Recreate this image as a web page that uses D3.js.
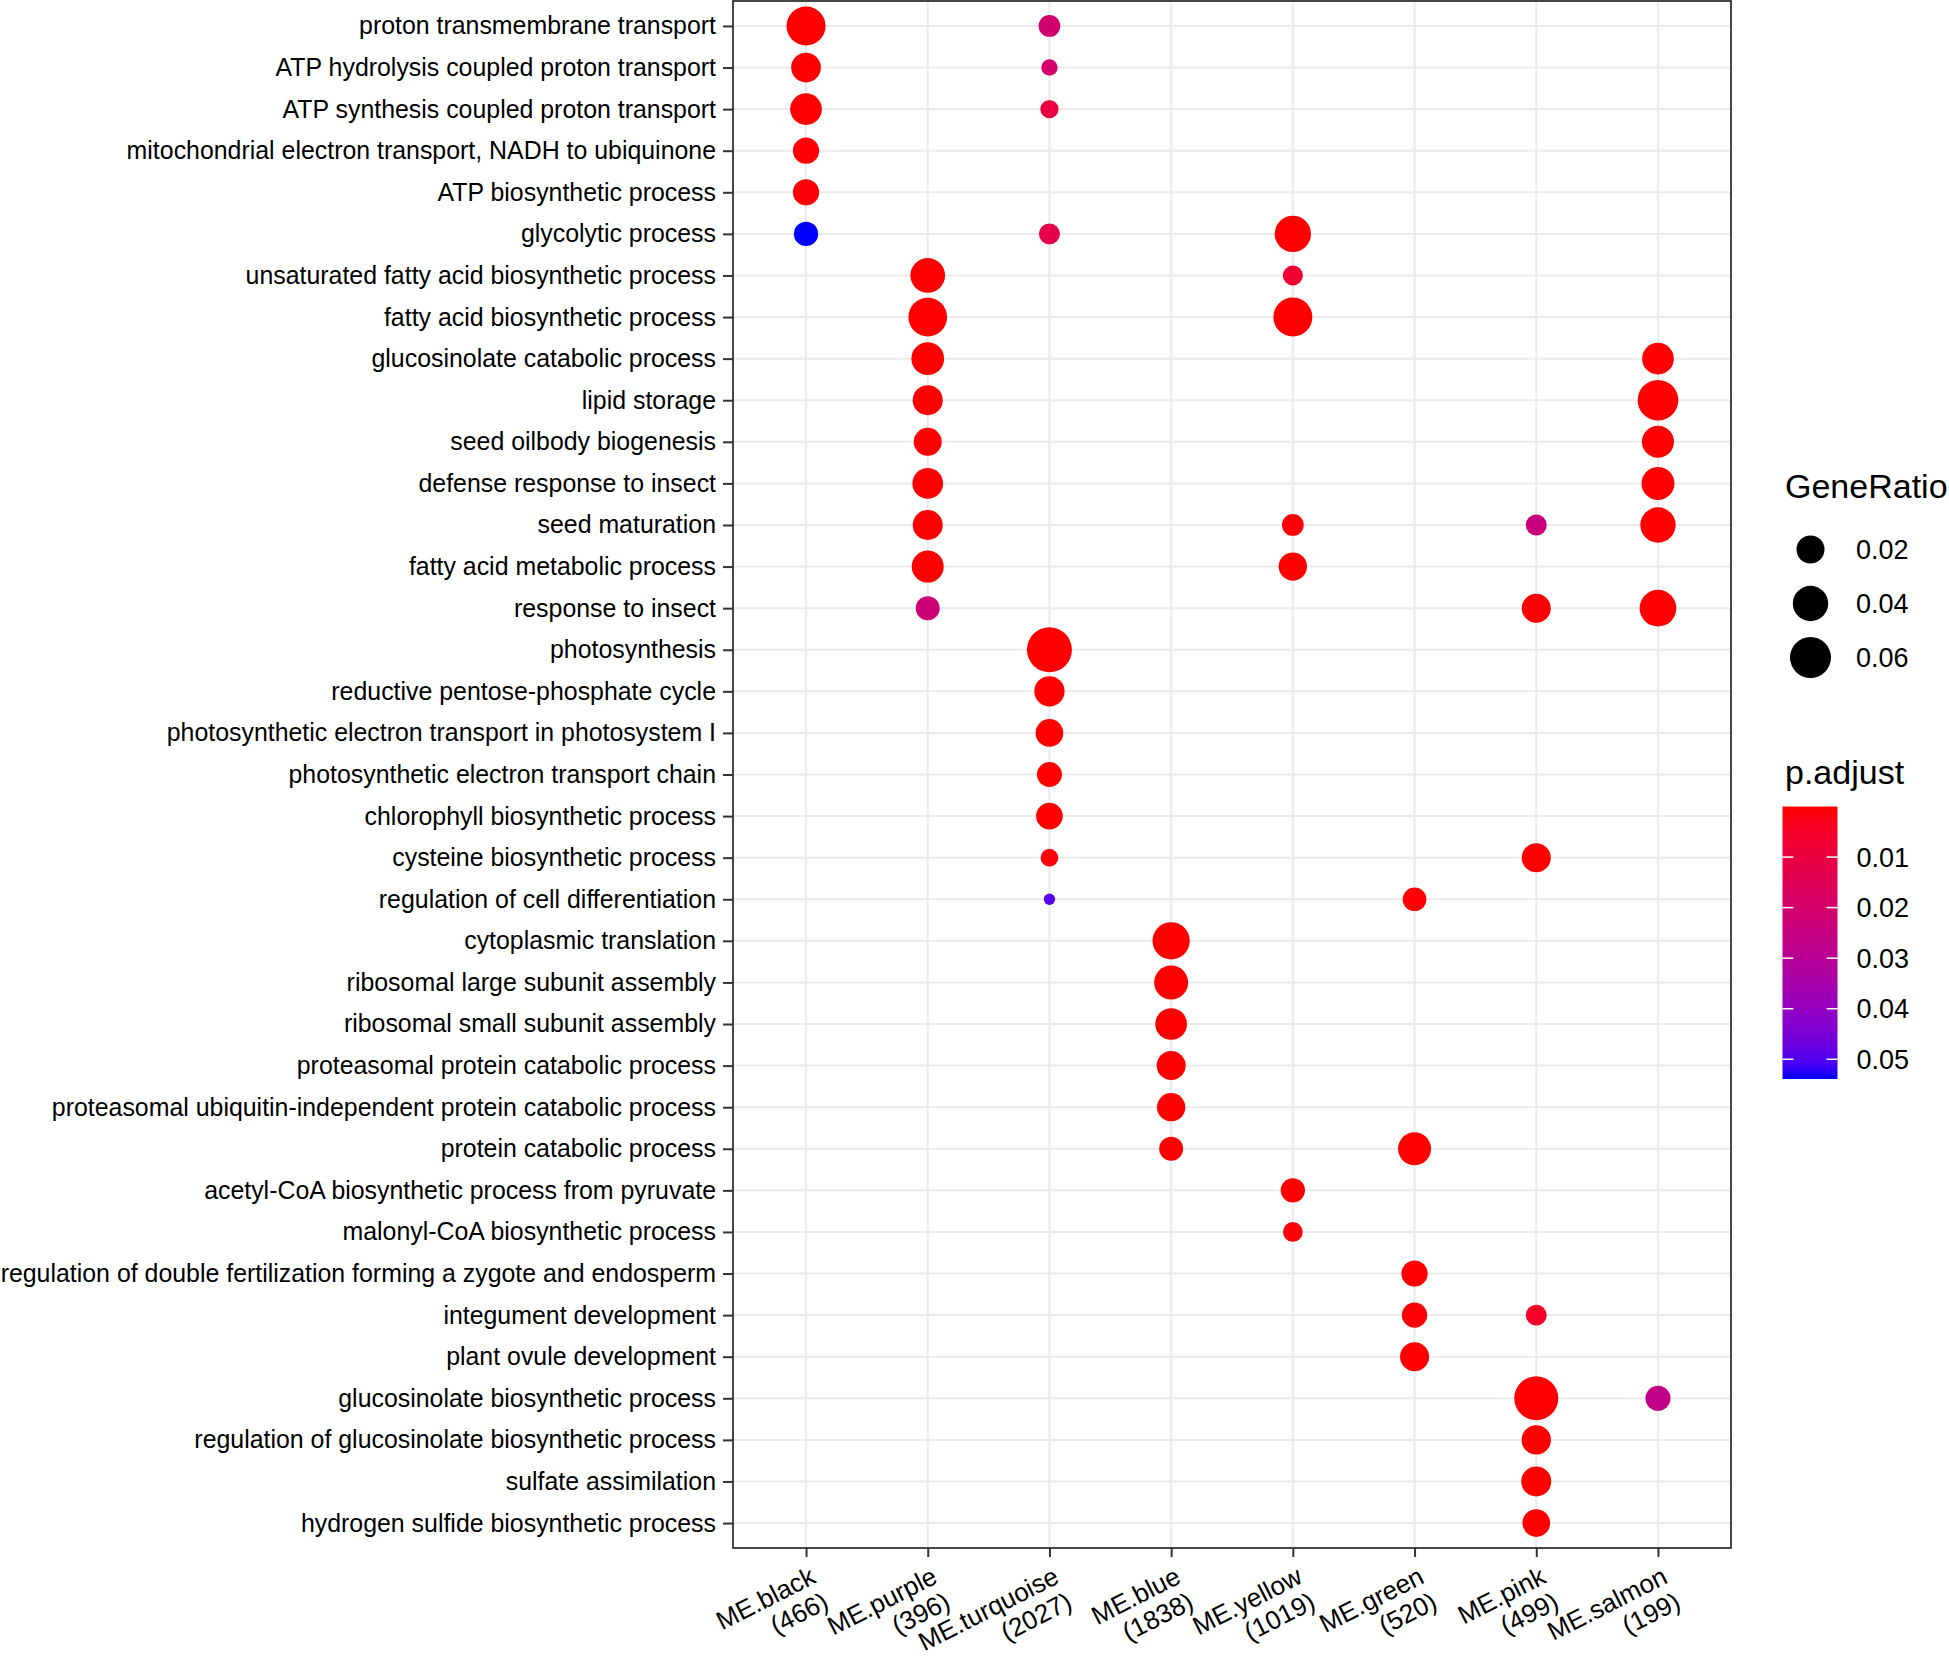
<!DOCTYPE html>
<html>
<head>
<meta charset="utf-8">
<script src="https://cdn.jsdelivr.net/npm/d3@7"></script>
<style>
  body { margin: 0; background: #fff; }
  svg { display: block; font-family: "Liberation Sans", Arial, Helvetica, sans-serif; }
</style>
</head>
<body>
<div id="chart"></div>
<script>
'use strict';

// modules on the x axis, with their gene counts
const modules = ['ME.black', 'ME.purple', 'ME.turquoise', 'ME.blue', 'ME.yellow', 'ME.green', 'ME.pink', 'ME.salmon'];
const moduleGenes = [466, 396, 2027, 1838, 1019, 520, 499, 199];

// GO terms on the y axis, top to bottom
const terms = [
    'proton transmembrane transport',
    'ATP hydrolysis coupled proton transport',
    'ATP synthesis coupled proton transport',
    'mitochondrial electron transport, NADH to ubiquinone',
    'ATP biosynthetic process',
    'glycolytic process',
    'unsaturated fatty acid biosynthetic process',
    'fatty acid biosynthetic process',
    'glucosinolate catabolic process',
    'lipid storage',
    'seed oilbody biogenesis',
    'defense response to insect',
    'seed maturation',
    'fatty acid metabolic process',
    'response to insect',
    'photosynthesis',
    'reductive pentose-phosphate cycle',
    'photosynthetic electron transport in photosystem I',
    'photosynthetic electron transport chain',
    'chlorophyll biosynthetic process',
    'cysteine biosynthetic process',
    'regulation of cell differentiation',
    'cytoplasmic translation',
    'ribosomal large subunit assembly',
    'ribosomal small subunit assembly',
    'proteasomal protein catabolic process',
    'proteasomal ubiquitin-independent protein catabolic process',
    'protein catabolic process',
    'acetyl-CoA biosynthetic process from pyruvate',
    'malonyl-CoA biosynthetic process',
    'regulation of double fertilization forming a zygote and endosperm',
    'integument development',
    'plant ovule development',
    'glucosinolate biosynthetic process',
    'regulation of glucosinolate biosynthetic process',
    'sulfate assimilation',
    'hydrogen sulfide biosynthetic process'
];

// one entry per dot: module index, term index, GeneRatio, p.adjust
const dotModule = [
    0, 0, 0, 0, 0, 0,
    1, 1, 1, 1, 1, 1, 1, 1, 1,
    2, 2, 2, 2, 2, 2, 2, 2, 2, 2, 2,
    3, 3, 3, 3, 3, 3,
    4, 4, 4, 4, 4, 4, 4,
    5, 5, 5, 5, 5,
    6, 6, 6, 6, 6, 6, 6, 6,
    7, 7, 7, 7, 7, 7, 7
];
const dotTerm = [
    0, 1, 2, 3, 4, 5,
    6, 7, 8, 9, 10, 11, 12, 13, 14,
    0, 1, 2, 5, 15, 16, 17, 18, 19, 20, 21,
    22, 23, 24, 25, 26, 27,
    5, 6, 7, 12, 13, 28, 29,
    21, 27, 30, 31, 32,
    12, 14, 20, 31, 33, 34, 35, 36,
    8, 9, 10, 11, 12, 14, 33
];
const geneRatio = [
    0.0524, 0.0239, 0.0291, 0.0164, 0.0164, 0.0127,
    0.0378, 0.0513, 0.0319, 0.0247, 0.0200, 0.0265, 0.0247, 0.0299, 0.0122,
    0.0087, 0.0032, 0.0047, 0.0077, 0.0768, 0.0254, 0.0193, 0.0140, 0.0172, 0.0042, 0.0015,
    0.0463, 0.0357, 0.0291, 0.0223, 0.0207, 0.0122,
    0.0429, 0.0065, 0.0524, 0.0087, 0.0207, 0.0127, 0.0062,
    0.0117, 0.0327, 0.0164, 0.0145, 0.0223,
    0.0077, 0.0223, 0.0223, 0.0077, 0.0724, 0.0230, 0.0247, 0.0193,
    0.0291, 0.0588, 0.0299, 0.0327, 0.0397, 0.0443, 0.0140
];
const pAdjust = [
    2.1e-9, 3.4e-5, 1.2e-5, 4.5e-4, 6.0e-4, 0.0539,
    8.2e-9, 1.5e-12, 4.1e-8, 2.3e-6, 6.4e-6, 3.0e-6, 1.1e-5, 4.8e-6, 0.0230,
    0.0210, 0.0200, 0.0105, 0.0125, 1e-40, 3.2e-10, 6.0e-8, 2.5e-5, 1.8e-6, 8.0e-4, 0.0495,
    1e-25, 2.2e-15, 5.1e-12, 3.3e-9, 1.0e-8, 4.0e-5,
    1.4e-10, 0.0070, 2.7e-13, 6.5e-4, 2.1e-5, 1.5e-4, 9.0e-4,
    4.2e-4, 3.6e-7, 7.7e-5, 2.9e-4, 1.3e-5,
    0.0240, 2.0e-4, 1.0e-4, 0.0050, 1.0e-20, 4.4e-6, 2.6e-6, 9.1e-6,
    5.5e-6, 1.2e-10, 4.9e-6, 1.6e-6, 3.9e-8, 1.1e-8, 0.0270
];

// legend breaks
const sizeBreaks = [0.02, 0.04, 0.06];
const colorBreaks = [0.01, 0.02, 0.03, 0.04, 0.05];

const width = 1949, height = 1660;
const panel = { left: 733, right: 1731, top: 1, bottom: 1548 };

const dots = dotModule.map((m, i) => ({
    module: modules[m],
    term: terms[dotTerm[i]],
    ratio: geneRatio[i],
    p: pAdjust[i]
}));

const svg = d3.select('#chart').append('svg')
    .attr('width', width)
    .attr('height', height);

const scaleX = d3.scalePoint()
    .domain(modules)
    .range([panel.left, panel.right])
    .padding(0.6);

const scaleY = d3.scalePoint()
    .domain(terms)
    .range([panel.top, panel.bottom])
    .padding(0.6);

// ggplot style area scale: rescale to [0,1] then sqrt to diameter
const ratioNorm = d3.scaleLinear()
    .domain(d3.extent(geneRatio))
    .range([0, 1]);
const diameter = d3.scaleSqrt()
    .domain([0, 1])
    .range([11.3, 45]);
const radius = v => diameter(ratioNorm(v)) / 2;

const pExtent = d3.extent(pAdjust);
const colour = d3.scaleLinear()
    .domain(pExtent)
    .range(['red', 'blue'])
    .interpolate(d3.interpolateLab);

// panel grid
const grid = svg.append('g').attr('class', 'grid');
grid.selectAll('line.gx')
    .data(modules)
    .join('line')
    .attr('x1', d => scaleX(d)).attr('x2', d => scaleX(d))
    .attr('y1', panel.top).attr('y2', panel.bottom)
    .attr('stroke', '#ebebeb')
    .attr('stroke-width', 2);
grid.selectAll('line.gy')
    .data(terms)
    .join('line')
    .attr('x1', panel.left).attr('x2', panel.right)
    .attr('y1', d => scaleY(d)).attr('y2', d => scaleY(d))
    .attr('stroke', '#ebebeb')
    .attr('stroke-width', 2);

// dots
svg.append('g')
    .selectAll('circle')
    .data(dots)
    .join('circle')
    .attr('cx', d => scaleX(d.module))
    .attr('cy', d => scaleY(d.term))
    .attr('r', d => radius(d.ratio))
    .attr('fill', d => colour(d.p));

// panel border
svg.append('rect')
    .attr('x', panel.left)
    .attr('y', panel.top)
    .attr('width', panel.right - panel.left)
    .attr('height', panel.bottom - panel.top)
    .attr('fill', 'none')
    .attr('stroke', '#333333')
    .attr('stroke-width', 1.8);

// y axis
const axisY = svg.append('g')
    .attr('transform', `translate(${panel.left}, 0)`)
    .call(d3.axisLeft(scaleY).tickSize(10).tickPadding(7));
axisY.select('.domain').remove();
axisY.selectAll('.tick line')
    .attr('stroke', '#333333')
    .attr('stroke-width', 2);
axisY.selectAll('.tick text')
    .attr('fill', '#000')
    .style('font-size', '24.9px');

// x axis
const axisX = svg.append('g')
    .attr('transform', `translate(0, ${panel.bottom})`)
    .call(d3.axisBottom(scaleX).tickSize(9).tickFormat(''));
axisX.select('.domain').remove();
axisX.selectAll('.tick line')
    .attr('stroke', '#333333')
    .attr('stroke-width', 2);
axisX.selectAll('.tick text').remove();

const xLabels = svg.append('g')
    .selectAll('text')
    .data(modules)
    .join('text')
    .attr('transform', d => `translate(${scaleX(d) + 2}, ${panel.bottom + 16}) rotate(-27)`)
    .attr('text-anchor', 'end')
    .style('font-size', '26px')
    .attr('fill', '#000');
xLabels.append('tspan')
    .attr('x', 0)
    .attr('dy', '0.78em')
    .text(d => d);
xLabels.append('tspan')
    .attr('x', 0)
    .attr('dy', '1.1em')
    .text((d, i) => `(${moduleGenes[i]})`);

// size legend
const sizeLegend = svg.append('g');
sizeLegend.append('text')
    .attr('x', 1785)
    .attr('y', 498)
    .style('font-size', '34px')
    .attr('fill', '#000')
    .text('GeneRatio');
const sizeKeyY = d3.scalePoint().domain(sizeBreaks).range([549.5, 657.5]);
sizeLegend.selectAll('circle')
    .data(sizeBreaks)
    .join('circle')
    .attr('cx', 1810.5)
    .attr('cy', d => sizeKeyY(d))
    .attr('r', d => radius(d))
    .attr('fill', '#000');
sizeLegend.selectAll('text.lab')
    .data(sizeBreaks)
    .join('text')
    .attr('class', 'lab')
    .attr('x', 1856)
    .attr('y', d => sizeKeyY(d))
    .attr('dy', '0.36em')
    .style('font-size', '27px')
    .attr('fill', '#000')
    .text(d => d.toFixed(2));

// colour legend
const colourLegend = svg.append('g');
colourLegend.append('text')
    .attr('x', 1785)
    .attr('y', 784)
    .style('font-size', '34px')
    .attr('fill', '#000')
    .text('p.adjust');

const barX = 1782.5, barW = 55;
const barY = d3.scaleLinear().domain(pExtent).range([806.5, 1079]);

const gradient = svg.append('defs').append('linearGradient')
    .attr('id', 'padj-grad')
    .attr('x1', 0).attr('x2', 0)
    .attr('y1', 0).attr('y2', 1);
gradient.selectAll('stop')
    .data(d3.range(0, 1.0001, 0.05))
    .join('stop')
    .attr('offset', d => d)
    .attr('stop-color', d => colour(pExtent[0] + d * (pExtent[1] - pExtent[0])));

colourLegend.append('rect')
    .attr('x', barX)
    .attr('y', barY.range()[0])
    .attr('width', barW)
    .attr('height', barY.range()[1] - barY.range()[0])
    .attr('fill', 'url(#padj-grad)');

colourLegend.selectAll('line.tl')
    .data(colorBreaks)
    .join('line')
    .attr('x1', barX).attr('x2', barX + 11)
    .attr('y1', d => barY(d)).attr('y2', d => barY(d))
    .attr('stroke', '#fff').attr('stroke-width', 1.5);
colourLegend.selectAll('line.tr')
    .data(colorBreaks)
    .join('line')
    .attr('x1', barX + barW - 11).attr('x2', barX + barW)
    .attr('y1', d => barY(d)).attr('y2', d => barY(d))
    .attr('stroke', '#fff').attr('stroke-width', 1.5);
colourLegend.selectAll('text.lab')
    .data(colorBreaks)
    .join('text')
    .attr('class', 'lab')
    .attr('x', 1856.5)
    .attr('y', d => barY(d))
    .attr('dy', '0.36em')
    .style('font-size', '27px')
    .attr('fill', '#000')
    .text(d => d.toFixed(2));
</script>
</body>
</html>
